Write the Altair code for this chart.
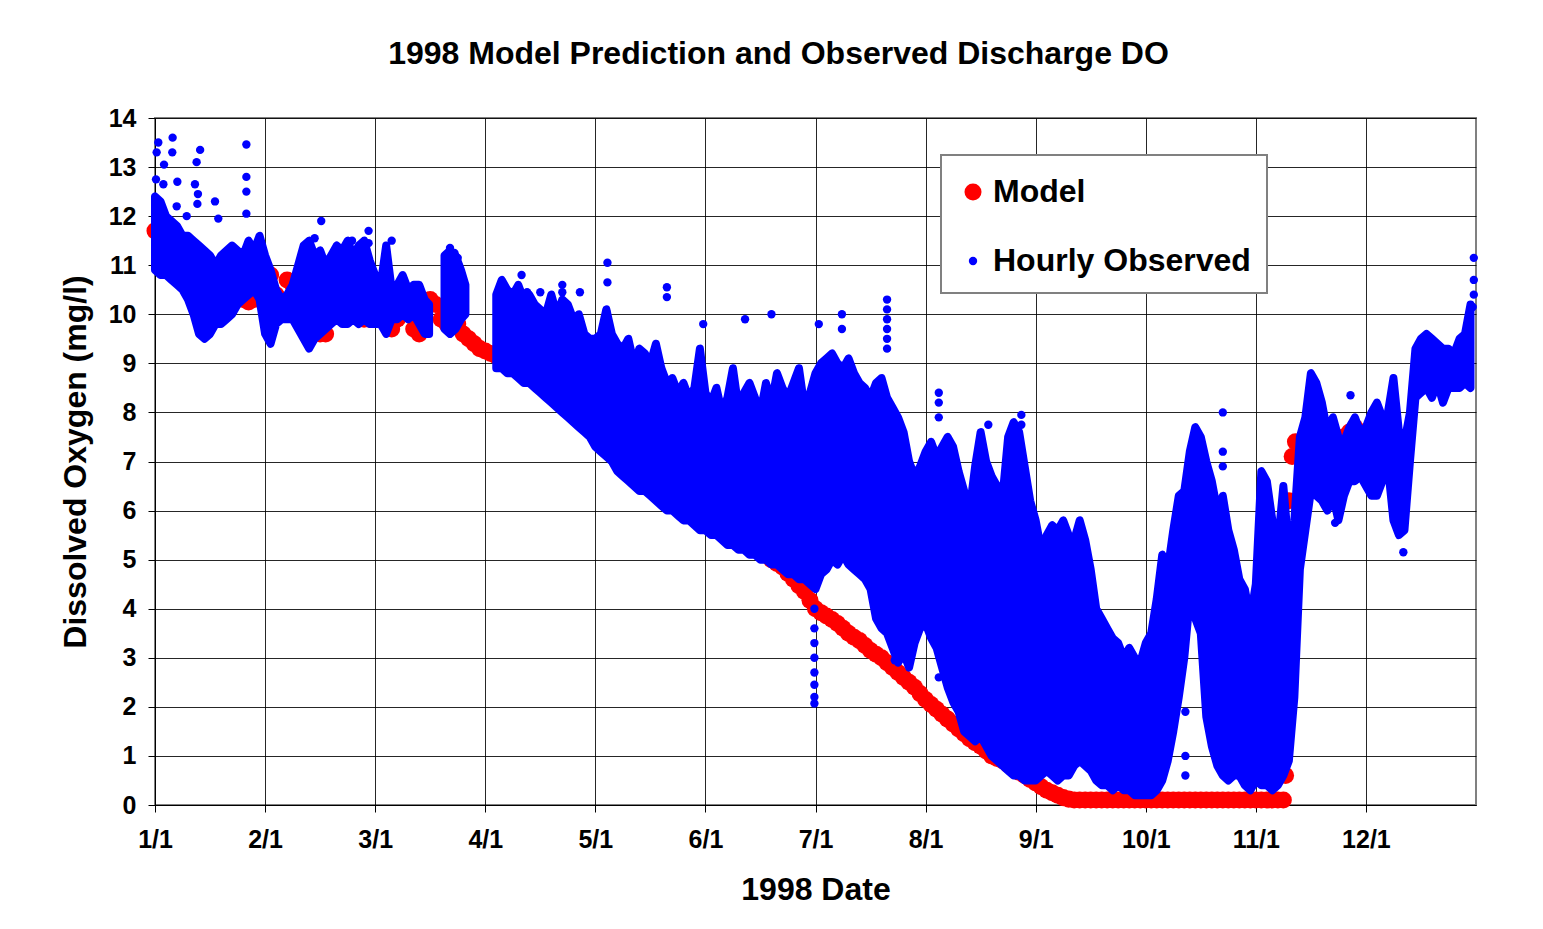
import altair as alt
import pandas as pd

# ---------------- labels ----------------
month_labels = ["1/1", "2/1", "3/1", "4/1", "5/1", "6/1", "7/1", "8/1", "9/1", "10/1", "11/1", "12/1"]
y_ticks = list(range(0, 15))
series_names = ["Model", "Hourly Observed"]

# ---------------- Model (x in months since 1/1) ----------------
model_t = [0.0, 0.05, 0.1, 0.15, 0.2, 0.25, 0.3, 0.35, 0.4, 0.45, 0.5, 0.55, 0.6, 0.65, 0.7, 0.75, 0.8, 0.85, 0.9, 0.95,
           1.0, 1.05, 1.1, 1.15, 1.2, 1.25, 1.3, 1.35, 1.4, 1.45, 1.5, 1.55, 1.6, 1.65, 1.7, 1.75, 1.8, 1.85, 1.9, 1.95,
           2.0, 2.05, 2.1, 2.15, 2.2, 2.25, 2.3, 2.35, 2.4, 2.45, 2.5, 2.55, 2.6, 2.65, 2.7, 2.75, 2.8, 2.85, 2.9, 2.95,
           3.0, 3.05, 3.1, 3.15, 3.2, 3.25, 3.3, 3.35, 3.4, 3.45, 3.5, 3.55, 3.6, 3.65, 3.7, 3.75, 3.8, 3.85, 3.9, 3.95,
           4.0, 4.05, 4.1, 4.15, 4.2, 4.25, 4.3, 4.35, 4.4, 4.45, 4.5, 4.55, 4.6, 4.65, 4.7, 4.75, 4.8, 4.85, 4.9, 4.95,
           5.0, 5.05, 5.1, 5.15, 5.2, 5.25, 5.3, 5.35, 5.4, 5.45, 5.5, 5.55, 5.6, 5.65, 5.7, 5.75, 5.8, 5.85, 5.9, 5.95,
           6.0, 6.05, 6.1, 6.15, 6.2, 6.25, 6.3, 6.35, 6.4, 6.45, 6.5, 6.55, 6.6, 6.65, 6.7, 6.75, 6.8, 6.85, 6.9, 6.95,
           7.0, 7.05, 7.1, 7.15, 7.2, 7.25, 7.3, 7.35, 7.4, 7.45, 7.5, 7.55, 7.6, 7.65, 7.7, 7.75, 7.8, 7.85, 7.9, 7.95,
           8.0, 8.05, 8.1, 8.15, 8.2, 8.25, 8.3, 8.35, 8.4, 8.45, 8.5, 8.55, 8.6, 8.65, 8.7, 8.75, 8.8, 8.85, 8.9, 8.95,
           9.0, 9.05, 9.1, 9.15, 9.2, 9.25, 9.3, 9.35, 9.4, 9.45, 9.5, 9.55, 9.6, 9.65, 9.7, 9.75, 9.8, 9.85, 9.9, 9.95,
           10.0, 10.05, 10.1, 10.15, 10.2, 10.25, 10.27, 10.28, 10.29, 10.3, 10.33, 10.36, 10.4, 10.45, 10.5, 10.55,
           10.6, 10.65, 10.7, 10.75, 10.8, 10.85, 10.9, 10.95, 11.0, 11.05, 11.1, 11.15, 11.2, 11.25, 11.3, 11.35,
           11.5, 11.55, 11.6, 11.65, 11.7, 11.75, 11.8, 11.85, 11.9]
model_v = [11.7, 11.6, 11.5, 11.45, 11.4, 11.3, 11.2, 11.1, 11.0, 10.9, 10.8, 10.7, 10.6, 10.65, 10.7, 10.5, 10.3, 10.25, 10.3, 10.7,
           10.8, 10.8, 10.4, 10.2, 10.7, 10.6, 10.3, 10.15, 10.0, 9.8, 9.6, 9.6, 10.0, 10.1, 10.2, 10.15, 10.1, 10.0, 9.9, 9.9,
           10.0, 10.4, 9.9, 9.7, 9.9, 10.1, 10.0, 9.7, 9.6, 10.0, 10.3, 10.2, 9.9, 9.8, 9.9, 9.8, 9.6, 9.5, 9.4, 9.3,
           9.25, 9.2, 9.15, 9.12, 9.1, 9.07, 9.05, 9.02, 9.0, 8.97, 8.95, 8.9, 8.8, 8.7, 8.6, 8.5, 8.4, 8.32, 8.25, 8.17,
           8.1, 8.05, 8.0, 8.05, 8.1, 8.0, 7.9, 7.8, 7.7, 7.6, 7.5, 7.4, 7.3, 7.15, 7.0, 6.9, 6.8, 6.65, 6.5, 6.4,
           6.3, 6.15, 6.05, 5.95, 5.85, 5.7, 5.6, 5.5, 5.4, 5.3, 5.2, 5.1, 5.0, 4.92, 4.85, 4.72, 4.6, 4.47, 4.35, 4.17,
           4.0, 3.92, 3.85, 3.78, 3.7, 3.6, 3.5, 3.42, 3.35, 3.25, 3.15, 3.07, 3.0, 2.9, 2.8, 2.7, 2.6, 2.5, 2.4, 2.27,
           2.15, 2.05, 1.95, 1.85, 1.75, 1.65, 1.55, 1.45, 1.35, 1.27, 1.2, 1.1, 1.0, 0.95, 0.9, 0.82, 0.75, 0.67, 0.6, 0.52,
           0.45, 0.37, 0.3, 0.25, 0.2, 0.15, 0.12, 0.1, 0.1, 0.1, 0.1, 0.1, 0.1, 0.1, 0.1, 0.1, 0.1, 0.1, 0.1, 0.1,
           0.1, 0.1, 0.1, 0.1, 0.1, 0.1, 0.1, 0.1, 0.1, 0.1, 0.1, 0.1, 0.1, 0.1, 0.1, 0.1, 0.1, 0.1, 0.1, 0.1,
           0.1, 0.1, 0.1, 0.1, 0.1, 0.1, 0.6, 3.2, 4.6, 6.2, 7.1, 7.4, 7.2, 6.9, 6.8, 6.7,
           6.5, 6.8, 7.0, 7.3, 7.5, 7.6, 7.7, 7.6, 7.5, 7.45, 7.4, 7.35, 7.3, 7.1, 7.0, 7.0,
           8.8, 8.9, 8.9, 8.85, 8.8, 8.8, 8.8, 8.9, 9.0]

# ---------------- Hourly observed: daily envelope (low / high), three runs ----------------
obs_a_t = [0.0, 0.05, 0.1, 0.15, 0.2, 0.25, 0.3, 0.35, 0.4, 0.45, 0.5, 0.55, 0.6, 0.65, 0.7, 0.75, 0.8,
           0.85, 0.9, 0.95, 1.0, 1.05, 1.1, 1.15, 1.2, 1.25, 1.3, 1.35, 1.4, 1.45, 1.5, 1.55, 1.6, 1.65,
           1.7, 1.75, 1.8, 1.85, 1.9, 1.95, 2.0, 2.05, 2.1, 2.15, 2.2, 2.25, 2.3, 2.35, 2.4, 2.45, 2.49]
obs_a_lo = [10.9, 10.8, 10.8, 10.7, 10.6, 10.5, 10.3, 10.0, 9.6, 9.5, 9.6, 9.8, 9.8, 9.9, 10.0, 10.2, 10.3,
            10.4, 10.5, 10.3, 9.6, 9.4, 9.8, 9.9, 9.9, 9.9, 9.7, 9.5, 9.3, 9.5, 9.6, 9.7, 9.8, 9.9,
            9.8, 9.8, 9.9, 9.8, 9.9, 9.8, 9.8, 9.8, 9.6, 9.9, 9.9, 10.0, 9.9, 10.0, 9.8, 9.6, 9.6]
obs_a_hi = [12.4, 12.3, 12.0, 11.9, 11.8, 11.6, 11.6, 11.5, 11.4, 11.3, 11.2, 11.0, 11.2, 11.3, 11.4, 11.3, 11.2,
            11.5, 11.3, 11.6, 11.2, 10.9, 10.5, 10.3, 10.4, 10.6, 11.0, 11.4, 11.5, 11.2, 11.3, 11.0, 11.2, 11.4,
            11.3, 11.5, 11.2, 11.4, 11.5, 11.1, 10.8, 10.6, 11.4, 10.5, 10.6, 10.8, 10.5, 10.6, 10.6, 10.3, 10.2]

obs_b_t = [2.63, 2.68, 2.73, 2.78, 2.82]
obs_b_lo = [9.7, 9.6, 9.7, 9.9, 10.0]
obs_b_hi = [11.2, 11.3, 11.2, 10.9, 10.6]

obs_c_t = [3.1, 3.15, 3.2, 3.25, 3.3, 3.35, 3.4, 3.45, 3.5, 3.55, 3.6, 3.65, 3.7, 3.75, 3.8, 3.85, 3.9, 3.95,
           4.0, 4.05, 4.1, 4.15, 4.2, 4.25, 4.3, 4.35, 4.4, 4.45, 4.5, 4.55, 4.6, 4.65, 4.7, 4.75, 4.8, 4.85,
           4.9, 4.95, 5.0, 5.05, 5.1, 5.15, 5.2, 5.25, 5.3, 5.35, 5.4, 5.45, 5.5, 5.55, 5.6, 5.65, 5.7, 5.75,
           5.8, 5.85, 5.9, 5.95, 6.0, 6.05, 6.1, 6.15, 6.2, 6.25, 6.3, 6.35, 6.4, 6.45, 6.5, 6.55, 6.6, 6.65,
           6.7, 6.75, 6.8, 6.85, 6.9, 6.95, 7.0, 7.05, 7.1, 7.15, 7.2, 7.25, 7.3, 7.35, 7.4, 7.45, 7.5, 7.55,
           7.6, 7.65, 7.7, 7.75, 7.8, 7.85, 7.9, 7.95, 8.0, 8.05, 8.1, 8.15, 8.2, 8.25, 8.3, 8.35, 8.4, 8.45,
           8.5, 8.55, 8.6, 8.65, 8.7, 8.75, 8.8, 8.85, 8.9, 8.95, 9.0, 9.05, 9.1, 9.15, 9.2, 9.25, 9.3, 9.35,
           9.4, 9.45, 9.5, 9.55, 9.6, 9.65, 9.7, 9.75, 9.8, 9.85, 9.9, 9.95, 10.0, 10.05, 10.1, 10.15, 10.2,
           10.25, 10.3, 10.35, 10.4, 10.45, 10.5, 10.55, 10.6, 10.65, 10.7, 10.75, 10.8, 10.85, 10.9, 10.95,
           11.0, 11.05, 11.1, 11.15, 11.2, 11.25, 11.3, 11.35, 11.4, 11.45, 11.5, 11.55, 11.6, 11.65, 11.7,
           11.75, 11.8, 11.85, 11.9, 11.95]
obs_c_lo = [8.9, 8.9, 8.8, 8.8, 8.7, 8.6, 8.6, 8.5, 8.4, 8.3, 8.2, 8.1, 8.0, 7.9, 7.8, 7.7, 7.6, 7.5,
            7.3, 7.2, 7.1, 7.0, 6.8, 6.7, 6.6, 6.5, 6.4, 6.4, 6.3, 6.2, 6.1, 6.0, 6.0, 5.9, 5.8, 5.8,
            5.7, 5.6, 5.6, 5.5, 5.5, 5.4, 5.3, 5.3, 5.2, 5.2, 5.1, 5.1, 5.0, 5.0, 4.9, 4.9, 4.8, 4.7,
            4.7, 4.6, 4.6, 4.5, 4.4, 4.7, 4.8, 5.0, 4.9, 5.1, 4.9, 4.8, 4.7, 4.6, 4.4, 3.8, 3.6, 3.5,
            3.2, 2.9, 3.1, 2.8, 3.3, 3.6, 3.7, 3.4, 3.2, 2.8, 2.4, 2.1, 1.9, 1.5, 1.4, 1.3, 1.4, 1.2,
            1.0, 0.9, 0.8, 0.7, 0.6, 0.6, 0.5, 0.5, 0.5, 0.6, 0.7, 0.6, 0.5, 0.6, 0.6, 0.8, 0.9, 0.8,
            0.7, 0.5, 0.4, 0.4, 0.3, 0.4, 0.3, 0.3, 0.2, 0.2, 0.2, 0.2, 0.3, 0.5, 0.9, 1.5, 2.2, 3.0,
            4.2, 3.8, 3.5, 1.8, 1.2, 0.8, 0.6, 0.5, 0.6, 0.6, 0.4, 0.3, 0.5, 0.4, 0.4, 0.3, 0.4,
            0.6, 0.9, 2.2, 4.8, 5.6, 6.4, 6.3, 6.2, 6.0, 6.3, 5.8, 6.3, 6.6, 6.6, 6.7,
            6.5, 6.3, 6.3, 6.6, 6.9, 5.8, 5.5, 5.6, 7.0, 8.3, 8.4, 8.5, 8.3, 8.6, 8.2,
            8.5, 8.5, 8.5, 8.6, 8.5]
obs_c_hi = [10.4, 10.7, 10.5, 10.4, 10.6, 10.3, 10.4, 10.2, 10.1, 10.0, 10.4, 10.0, 10.3, 10.2, 9.9, 10.0, 9.6, 9.5,
            9.5, 9.6, 10.1, 9.6, 9.4, 9.3, 9.5, 9.0, 9.3, 9.2, 9.0, 9.4, 8.9, 8.6, 8.7, 8.4, 8.6, 8.3,
            8.5, 9.3, 8.4, 8.2, 8.5, 8.0, 8.3, 8.9, 8.1, 8.4, 8.6, 8.3, 8.0, 8.6, 8.2, 8.8, 8.5, 8.3,
            8.6, 8.9, 8.1, 8.4, 8.8, 9.0, 9.1, 9.2, 9.0, 8.9, 9.1, 8.8, 8.6, 8.5, 8.3, 8.6, 8.7, 8.3,
            8.1, 7.9, 7.6, 7.0, 6.7, 6.9, 7.2, 7.4, 7.1, 7.3, 7.5, 7.3, 6.8, 6.4, 6.0, 6.9, 7.6, 7.0,
            6.7, 6.5, 6.3, 7.5, 7.8, 7.6, 6.9, 6.2, 5.8, 5.2, 5.5, 5.7, 5.6, 5.8, 5.5, 5.4, 5.8, 5.4,
            4.8, 4.0, 3.8, 3.6, 3.4, 3.3, 3.0, 3.2, 3.0, 2.9, 3.3, 3.5, 4.2, 5.1, 4.8, 5.6, 6.3, 6.4,
            7.2, 7.7, 7.5, 7.0, 6.6, 6.0, 6.3, 5.6, 5.2, 4.6, 4.4, 3.8, 4.5, 6.8, 6.6, 5.8, 5.3,
            6.5, 5.2, 5.8, 7.5, 7.9, 8.8, 8.6, 8.2, 7.6, 7.9, 7.5, 7.4, 7.7, 7.9, 7.6,
            7.7, 8.0, 8.2, 7.9, 8.0, 8.7, 7.6, 7.4, 8.0, 9.3, 9.5, 9.6, 9.5, 9.4, 9.3,
            9.3, 9.2, 9.5, 9.6, 10.2]

# ---------------- Hourly observed: isolated readings away from the daily band ----------------
out_t = [0.009, 0.015, 0.03, 0.076, 0.082, 0.157, 0.16, 0.197, 0.203, 0.288, 0.363, 0.378, 0.385, 0.39,
         0.41, 0.545, 0.575, 0.83, 0.83, 0.83, 0.83, 1.45, 1.51, 1.79, 1.94, 1.94, 2.15, 2.68, 2.72, 2.75,
         3.15, 3.33, 3.38, 3.5, 3.7, 3.7, 3.86, 4.11, 4.11, 4.1, 4.65, 4.65, 4.98, 5.36, 5.6, 6.03,
         5.99, 5.99, 5.99, 5.99, 5.99, 5.99, 5.99, 5.99, 6.24, 6.24, 6.65, 6.65, 6.65, 6.65, 6.65, 6.65,
         6.72, 7.12, 7.12, 7.12, 7.12, 7.57, 7.87, 7.87, 9.7, 9.7, 9.7, 9.36, 9.36, 9.36, 10.72, 10.86,
         11.34, 11.98, 11.98, 11.98, 11.97]
out_v = [12.75, 13.3, 13.5, 12.65, 13.05, 13.3, 13.6, 12.2, 12.7, 12.0, 12.65, 13.1, 12.25, 12.45,
         13.35, 12.3, 11.95, 13.46, 12.8, 12.5, 12.05, 11.55, 11.9, 11.5, 11.7, 11.45, 11.5, 11.35, 11.25, 11.15,
         10.65, 10.8, 10.45, 10.45, 10.6, 10.45, 10.45, 11.05, 10.65, 10.05, 10.55, 10.35, 9.8, 9.9, 10.0, 9.8,
         4.0, 3.6, 3.3, 3.0, 2.7, 2.45, 2.2, 2.07, 10.0, 9.7, 10.3, 10.1, 9.9, 9.7, 9.5, 9.3,
         2.95, 8.4, 8.2, 7.9, 2.6, 7.75, 7.95, 7.75, 8.0, 7.2, 6.9, 1.9, 1.0, 0.6, 5.75, 8.35,
         5.15, 11.15, 10.7, 10.4, 10.15]

# ---------------- tables ----------------
model_df = pd.DataFrame({"t": model_t, "v": model_v, "series": "Model"})
out_df = pd.DataFrame({"t": out_t, "v": out_v, "series": "Hourly Observed"})
obs_df = pd.concat([
    pd.DataFrame({"t": obs_a_t, "lo": obs_a_lo, "hi": obs_a_hi, "seg": "a"}),
    pd.DataFrame({"t": obs_b_t, "lo": obs_b_lo, "hi": obs_b_hi, "seg": "b"}),
    pd.DataFrame({"t": obs_c_t, "lo": obs_c_lo, "hi": obs_c_hi, "seg": "c"}),
], ignore_index=True)

FONT = "Liberation Sans"
label_expr = "[" + ",".join("'" + s + "'" for s in month_labels) + "][datum.value]"

x_enc = alt.X("t:Q",
              scale=alt.Scale(domain=[0, 12], nice=False, zero=False),
              axis=alt.Axis(values=list(range(len(month_labels))), labelExpr=label_expr,
                            title="1998 Date", grid=True))
y_enc = alt.Y("v:Q",
              scale=alt.Scale(domain=[0, 14], nice=False),
              axis=alt.Axis(values=y_ticks, title="Dissolved Oxygen (mg/l)", grid=True))

legend_def = alt.Legend(title=" ", orient="none", legendX=786, legendY=37)
color_enc = alt.Color("series:N", scale=alt.Scale(domain=series_names, range=["#FF0000", "#0000FF"]),
                      legend=legend_def)
size_enc = alt.Size("series:N", scale=alt.Scale(domain=series_names, range=[290, 70]),
                    legend=legend_def)

model_layer = alt.Chart(model_df).mark_circle(opacity=1).encode(
    x=x_enc, y=y_enc, color=color_enc, size=size_enc)

obs_layer = alt.Chart(obs_df).mark_area(
    color="#0000FF", fill="#0000FF", stroke="#0000FF", strokeWidth=8, strokeJoin="round", opacity=1
).encode(
    x=alt.X("t:Q", scale=alt.Scale(domain=[0, 12], nice=False, zero=False)),
    y=alt.Y("lo:Q", scale=alt.Scale(domain=[0, 14], nice=False)),
    y2="hi:Q",
    detail="seg:N",
)

out_layer = alt.Chart(out_df).mark_circle(opacity=1).encode(
    x=x_enc, y=y_enc, color=color_enc, size=size_enc)

chart = alt.layer(model_layer, obs_layer, out_layer).properties(
    width=1321, height=687,
    title=alt.Title("1998 Model Prediction and Observed Discharge DO",
                    font=FONT, fontSize=32, fontWeight="bold", color="#000000",
                    anchor="middle", frame="group", dx=-37, offset=35),
    autosize=alt.AutoSizeParams(type="none"),
    padding={"left": 147, "top": 110, "right": 59, "bottom": 110},
    background="#FFFFFF",
).configure_view(
    stroke="#808080", strokeWidth=2
).configure_axis(
    labelFont=FONT, labelFontSize=25, labelFontWeight="bold", labelColor="#000000",
    titleFont=FONT, titleFontSize=32, titleFontWeight="bold", titleColor="#000000",
    gridColor="#000000", gridWidth=1, gridOpacity=0.85,
    domainColor="#000000", domainWidth=1,
    tickColor="#000000", tickSize=7, tickWidth=1,
).configure_axisX(
    labelPadding=15, titlePadding=22, labelFlush=False
).configure_axisY(
    labelPadding=12, titlePadding=16
).configure_legend(
    labelFont=FONT, labelFontSize=32, labelFontWeight="bold", labelColor="#000000",
    titleFontSize=5, titlePadding=0, titleFont=FONT,
    padding=16, strokeColor="#808080", strokeWidth=2, fillColor="#FFFFFF",
    symbolType="circle", symbolStrokeWidth=0, rowPadding=37, labelOffset=4,
    cornerRadius=0, labelLimit=400,
)

chart.save("out.html", embed_options={"renderer": "svg", "actions": False})
